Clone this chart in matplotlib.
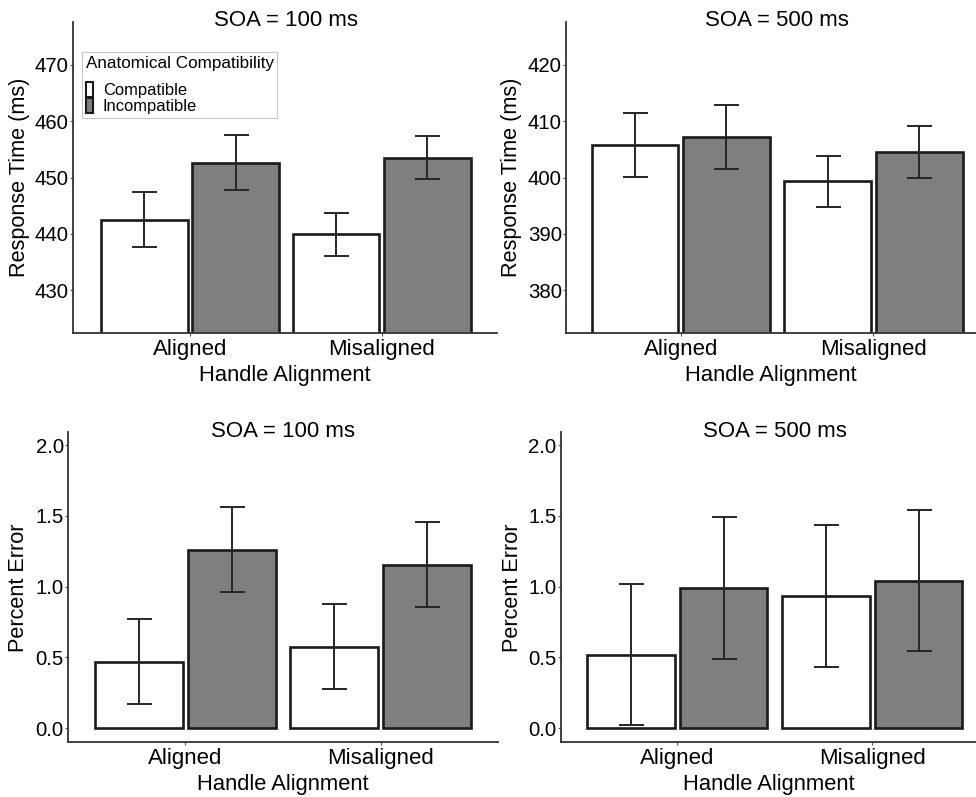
import matplotlib
matplotlib.use("Agg")
import matplotlib.pyplot as plt
from matplotlib.patches import Patch
import numpy as np

plt.rcParams['font.family'] = ['Liberation Sans', 'DejaVu Sans']

alignments = ["Aligned", "Misaligned"]
compat_levels = ["Compatible", "Incompatible"]
titles = ["SOA = 100 ms", "SOA = 500 ms"]

# Response time means and SE: [Compatible, Incompatible] x [Aligned, Misaligned]
rt100_mean = {"Compatible": [442.5, 439.9], "Incompatible": [452.6, 453.5]}
rt100_se = {"Compatible": [4.9, 3.85], "Incompatible": [4.9, 3.85]}
rt500_mean = {"Compatible": [405.8, 399.3], "Incompatible": [407.2, 404.6]}
rt500_se = {"Compatible": [5.7, 4.6], "Incompatible": [5.7, 4.6]}
pe100_mean = {"Compatible": [0.47, 0.575], "Incompatible": [1.26, 1.155]}
pe100_se = {"Compatible": [0.30, 0.30], "Incompatible": [0.30, 0.30]}
pe500_mean = {"Compatible": [0.52, 0.935], "Incompatible": [0.99, 1.043]}
pe500_se = {"Compatible": [0.50, 0.50], "Incompatible": [0.50, 0.50]}

rt_yticks_100 = [430, 440, 450, 460, 470]
rt_yticks_500 = [380, 390, 400, 410, 420]
pe_yticks = [0.0, 0.5, 1.0, 1.5, 2.0]
pe_yticklabels = ["0.0", "0.5", "1.0", "1.5", "2.0"]

fills = {"Compatible": "white", "Incompatible": "#7f7f7f"}

W, H = 976, 797
fig = plt.figure(figsize=(W / 100, H / 100), dpi=100)


def make_ax(left, right, top, bottom):
    return fig.add_axes([left / W, 1 - bottom / H, (right - left) / W, (bottom - top) / H])


panels = [
    # left, right, top, bottom (px), xlim, ylim, means, se, yticks, yticklabels, ylabel, title, ylabel x px
    (73, 497, 22, 333, (0.39, 2.6), (422.4, 477.6), rt100_mean, rt100_se, rt_yticks_100, None,
     "Response Time (ms)", titles[0], 20),
    (566, 976, 22, 333, (0.405, 2.532), (372.4, 427.6), rt500_mean, rt500_se, rt_yticks_500, None,
     "Response Time (ms)", titles[1], 512),
    (68, 498, 432.3, 742.3, (0.4, 2.6), (-0.099, 2.09), pe100_mean, pe100_se, pe_yticks, pe_yticklabels,
     "Percent Error", titles[0], 19),
    (560.7, 976, 432.3, 742.3, (0.402, 2.532), (-0.099, 2.09), pe500_mean, pe500_se, pe_yticks, pe_yticklabels,
     "Percent Error", titles[1], 512),
]

x = np.arange(1, len(alignments) + 1)
offsets = {"Compatible": -0.2375, "Incompatible": 0.2375}
barw = 0.45

axes = []
for (l, r, t, b, xl, yl, means, ses, yt, ytl, ylab, title, ylx) in panels:
    ax = make_ax(l, r, t, b)
    axes.append(ax)
    for c in compat_levels:
        ax.bar(x + offsets[c], means[c], width=barw, color=fills[c], edgecolor="#1a1a1a",
               linewidth=1.9, zorder=2)
        ax.errorbar(x + offsets[c], means[c], yerr=ses[c], fmt="none", ecolor="#262626",
                    elinewidth=1.4, capsize=9, capthick=1.4, zorder=3)
    ax.set_xlim(*xl)
    ax.set_ylim(*yl)
    ax.set_xticks(x)
    ax.set_xticklabels(alignments, fontsize=16)
    ax.set_yticks(yt)
    if ytl is not None:
        ax.set_yticklabels(ytl)
    ax.tick_params(axis="y", labelsize=14.7, length=2, width=0.8, color="#555555", pad=1)
    ax.tick_params(axis="x", length=2, width=0.8, color="#555555", pad=2)
    for s in ["top", "right"]:
        ax.spines[s].set_visible(False)
    for s in ["left", "bottom"]:
        ax.spines[s].set_color("#333333")
        ax.spines[s].set_linewidth(1.3)
    ax.set_xlabel("Handle Alignment", fontsize=15.8, labelpad=4)
    ax.set_ylabel(ylab, fontsize=15.6, va="center")
    ax.yaxis.set_label_coords((ylx - l) / (r - l), 0.5)
    ax.text(1.5, 1.004, title, transform=ax.get_xaxis_transform(), ha="center", va="center",
            fontsize=16)
    ax.set_facecolor("none")

handles = [Patch(facecolor=fills[c], edgecolor="#1a1a1a", linewidth=1.5) for c in compat_levels]
leg = axes[0].legend(handles, compat_levels, title="Anatomical Compatibility",
                     loc="upper left", bbox_to_anchor=(82 / W, 1 - 52 / H),
                     bbox_transform=fig.transFigure, fontsize=11.9, title_fontsize=12.3,
                     frameon=True, fancybox=False, framealpha=1, edgecolor="#c8c8c8",
                     handlelength=0.45, handleheight=1.05, handletextpad=0.6, labelspacing=0.0,
                     borderpad=0.22, borderaxespad=0, alignment="left")
leg.get_frame().set_linewidth(0.8)
leg._legend_box.sep = 8

fig.savefig("out.png", dpi=100)
